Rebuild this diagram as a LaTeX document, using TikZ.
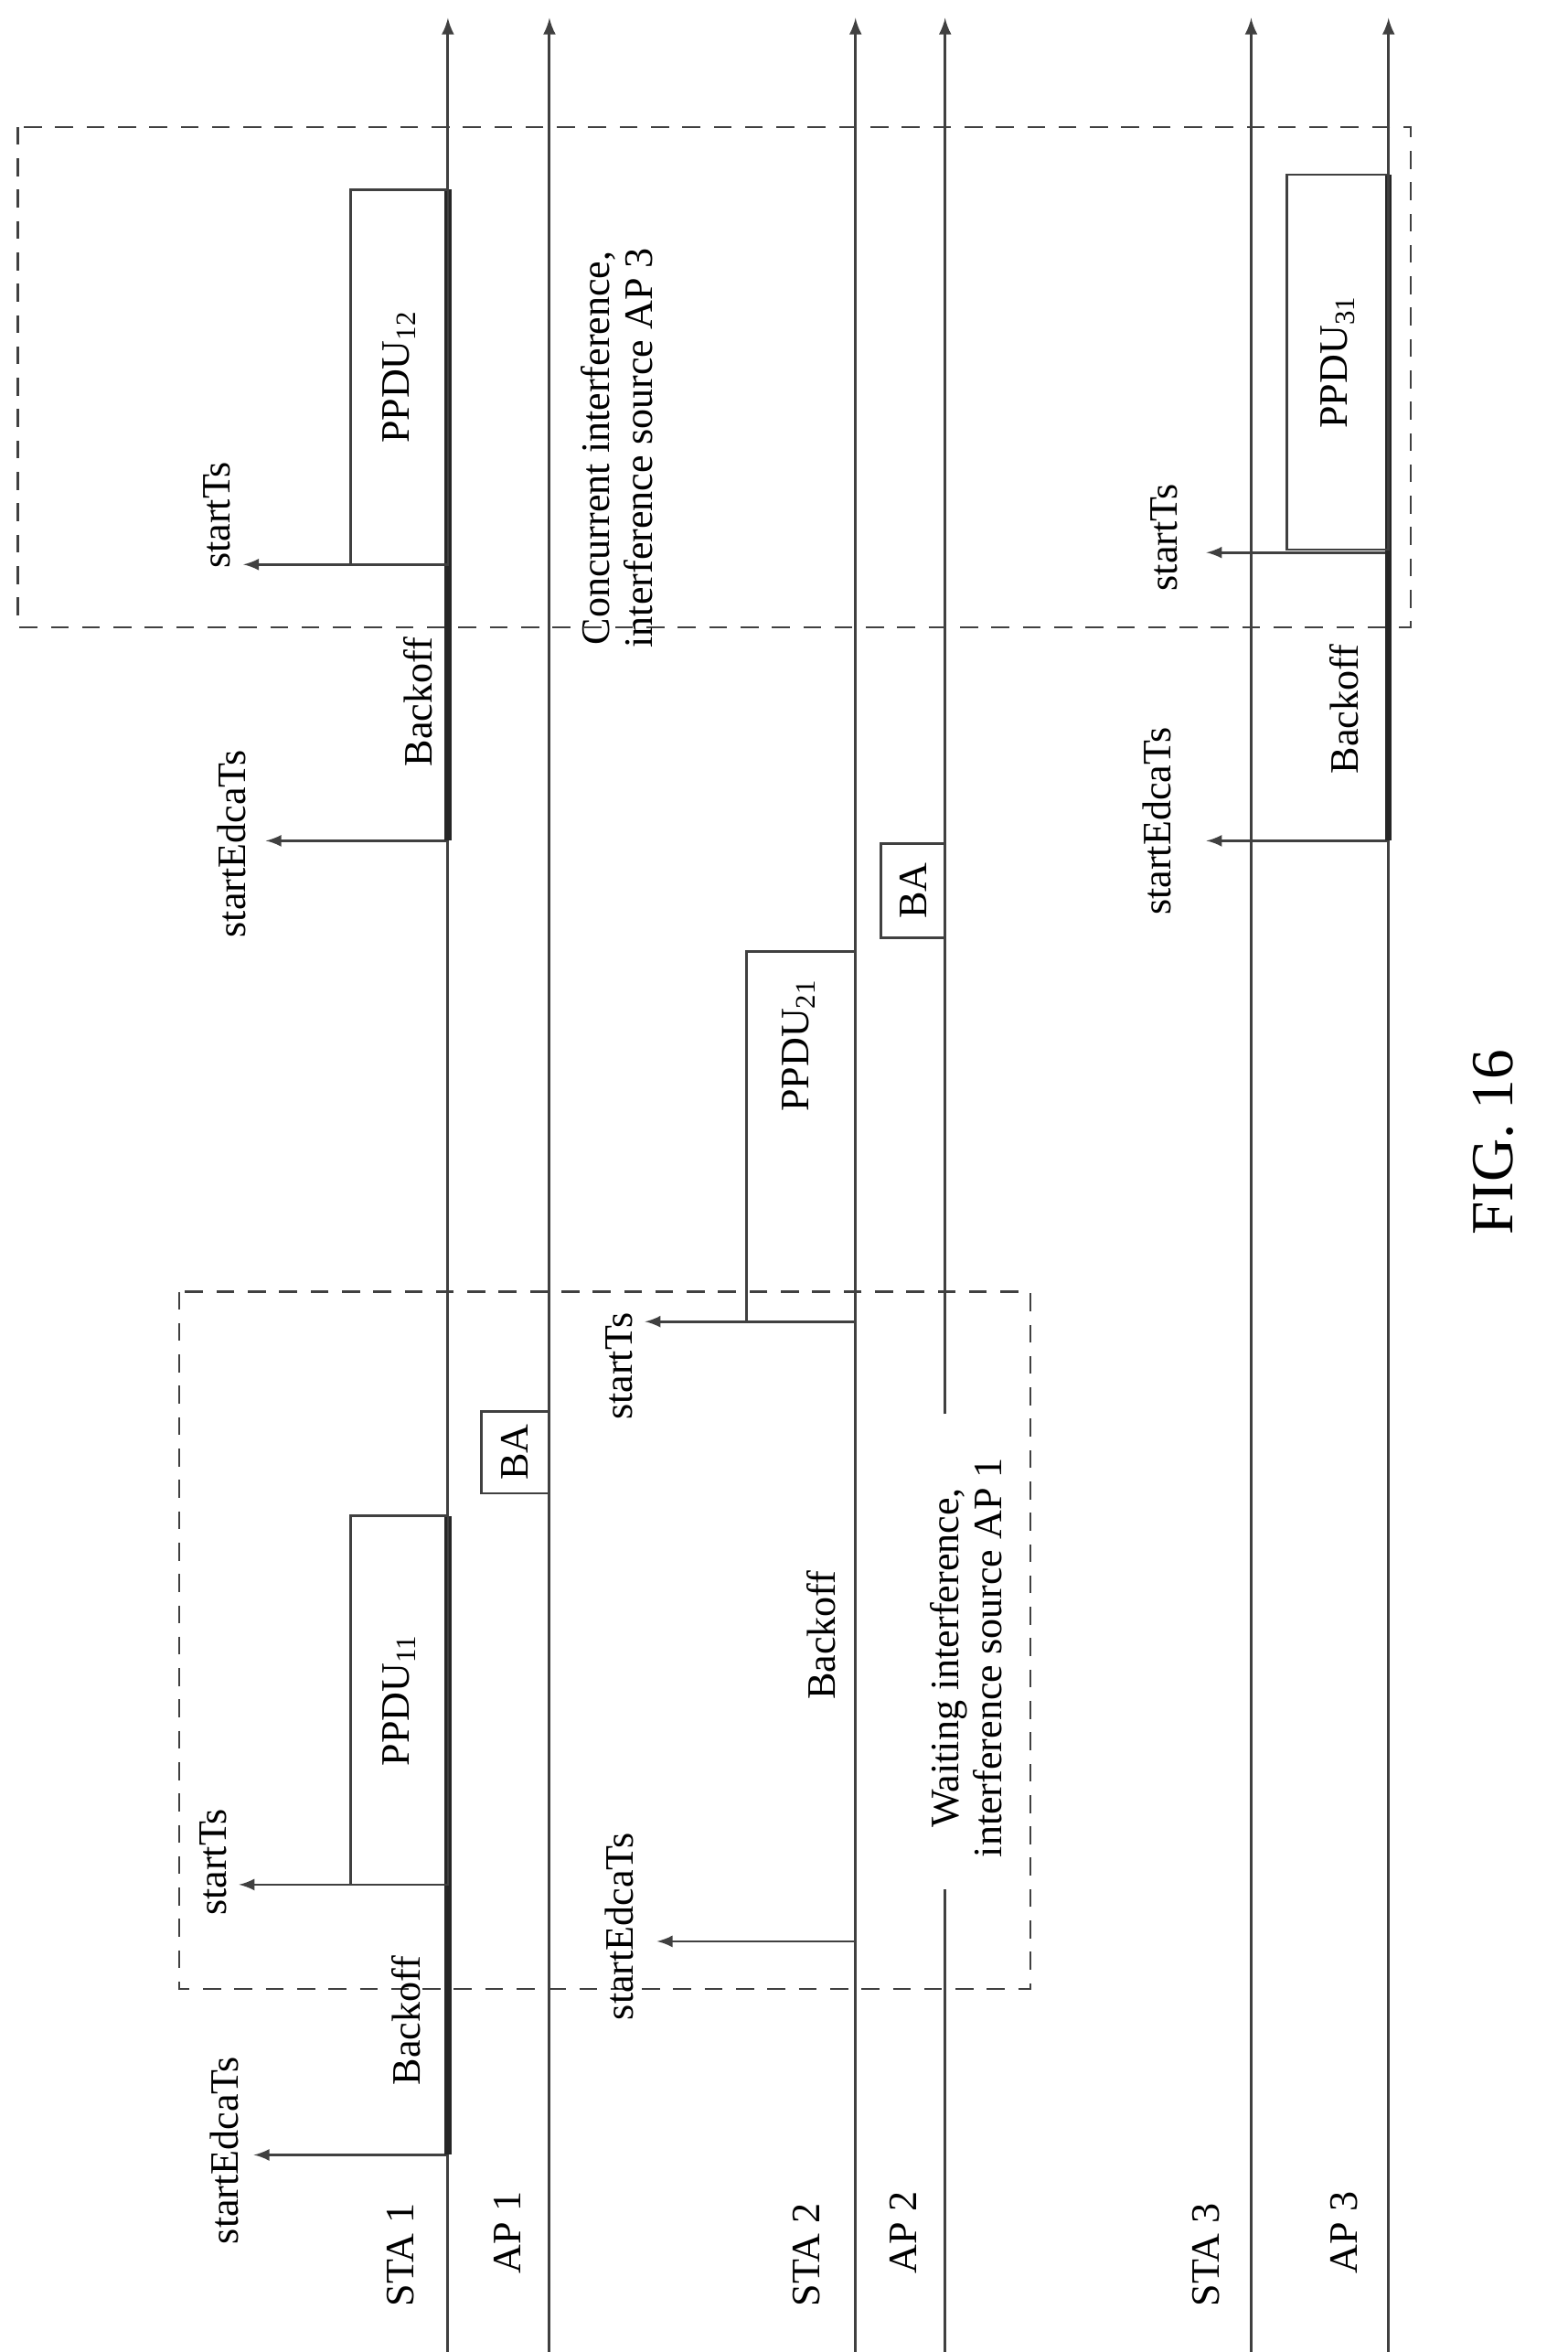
\documentclass[tikz,border=0pt]{standalone}
\usepackage{fontspec}
\setmainfont{Liberation Serif}
\usetikzlibrary{arrows,positioning,calc}

\begin{document}
\begin{tikzpicture}[x=0.5pt,y=-0.5pt]

\tikzset{every node/.style = {font=\fontsize{13.5}{14.5}\selectfont, rotate=90, inner sep=0pt}}
\tikzset{life/.style = {line width=0.9pt, black!75, ->, >=latex}}
\tikzset{sig/.style = {line width=0.8pt, black!75, ->, >=latex}}
\tikzset{boff/.style = {line width=2.2pt, black!85}}
\tikzset{frame/.style = {draw, black!75, line width=0.7pt, dash pattern=on 6pt off 4.5pt}}
\tikzstyle{ppdu} = [rectangle, draw=black!75, line width=0.8pt, anchor=center]

\useasboundingbox (0,0) rectangle (1050,1575);

% lifelines
\foreach \name/\x in {sta1/300, ap1/368, sta2/573, sta3/838, ap3/930} {
  \coordinate (\name_b) at (\x,1575);
  \coordinate (\name_t) at (\x,12);
  \draw[life] (\name_b) -- (\name_t);
}
\coordinate (ap2_b)  at (633,1575);
\coordinate (ap2_g1) at (633,1265);
\coordinate (ap2_g2) at (633,947);
\coordinate (ap2_t)  at (633,12);
\draw[life, -] (ap2_b) -- (ap2_g1);
\draw[life] (ap2_g2) -- (ap2_t);

\node (l_sta1) at (268,1510) {STA 1};
\node (l_ap1)  at (340,1495) {AP 1};
\node (l_sta2) at (540,1510) {STA 2};
\node (l_ap2)  at (605,1495) {AP 2};
\node (l_sta3) at (808,1510) {STA 3};
\node (l_ap3)  at (900,1495) {AP 3};

% interference frames
\draw[frame] (12,85) rectangle (945,420);
\draw[frame] (120,865) rectangle (690,1332);
\node[align=center] (conc) at (413,300) {Concurrent interference,\\interference source AP 3};
\node[align=center] (wait) at (647,1110) {Waiting interference,\\interference source AP 1};

% STA 1, first access
\coordinate (s1_edca1) at (300,1443);
\coordinate (s1_ts1)   at (300,1262);
\coordinate (s1_top1)  at (300,1015);
\coordinate (s1_e1)    at (170,1443);
\coordinate (s1_t1)    at (160,1262);
\draw[sig]  (s1_edca1) -- (s1_e1);
\draw[sig]  (s1_ts1)   -- (s1_t1);
\draw[boff] (s1_edca1) -- (s1_top1);
\node (edca1) at (150,1440) {startEdcaTs};
\node (ts1)   at (143,1247) {startTs};
\node (bo1)   at (272,1353) {Backoff};
\node[ppdu, minimum width=123.5pt, minimum height=32.5pt] (ppdu11) at (267.5,1138.5) {PPDU\textsubscript{11}};
\node[ppdu, minimum width=27.5pt, minimum height=22.5pt]  (ba1)    at (345,972.5) {BA};

% STA 1, second access
\coordinate (s1_edca2) at (300,563);
\coordinate (s1_ts2)   at (300,378);
\coordinate (s1_top2)  at (300,127);
\coordinate (s1_e2)    at (178,563);
\coordinate (s1_t2)    at (163,378);
\draw[sig]  (s1_edca2) -- (s1_e2);
\draw[sig]  (s1_ts2)   -- (s1_t2);
\draw[boff] (s1_edca2) -- (s1_top2);
\node (edca2) at (155,565) {startEdcaTs};
\node (ts2)   at (145,345) {startTs};
\node (bo2)   at (280,470) {Backoff};
\node[ppdu, minimum width=125.5pt, minimum height=32.5pt] (ppdu12) at (267.5,252.5) {PPDU\textsubscript{12}};

% STA 2
\coordinate (s2_edca) at (573,1300);
\coordinate (s2_ts)   at (573,885);
\coordinate (s2_e)    at (440,1300);
\coordinate (s2_t)    at (432,885);
\draw[sig] (s2_edca) -- (s2_e);
\draw[sig] (s2_ts)   -- (s2_t);
\node (edca3) at (415,1290) {startEdcaTs};
\node (ts3)   at (415,915)  {startTs};
\node (bo3)   at (550,1095) {Backoff};
\node[ppdu, minimum width=124pt, minimum height=36.5pt] (ppdu21) at (536.5,761) {};
\node (ppdu21_l) at (535,700) {PPDU\textsubscript{21}};
\node[ppdu, minimum width=31.5pt, minimum height=21.5pt] (ba2) at (611.5,596.5) {BA};

% AP 3
\coordinate (a3_edca) at (930,563);
\coordinate (a3_ts)   at (930,370);
\coordinate (a3_top)  at (930,117);
\coordinate (a3_e)    at (808,563);
\coordinate (a3_t)    at (808,370);
\draw[sig]  (a3_edca) -- (a3_e);
\draw[sig]  (a3_ts)   -- (a3_t);
\draw[boff] (a3_edca) -- (a3_top);
\node (edca4) at (775,550) {startEdcaTs};
\node (ts4)   at (780,360) {startTs};
\node (bo4)   at (900,475) {Backoff};
\node[ppdu, minimum width=125.5pt, minimum height=34pt] (ppdu31) at (896,242.5) {PPDU\textsubscript{31}};

\node[font=\fontsize{20}{22}\selectfont] (fig) at (1000,765) {FIG. 16};

\end{tikzpicture}
\end{document}
